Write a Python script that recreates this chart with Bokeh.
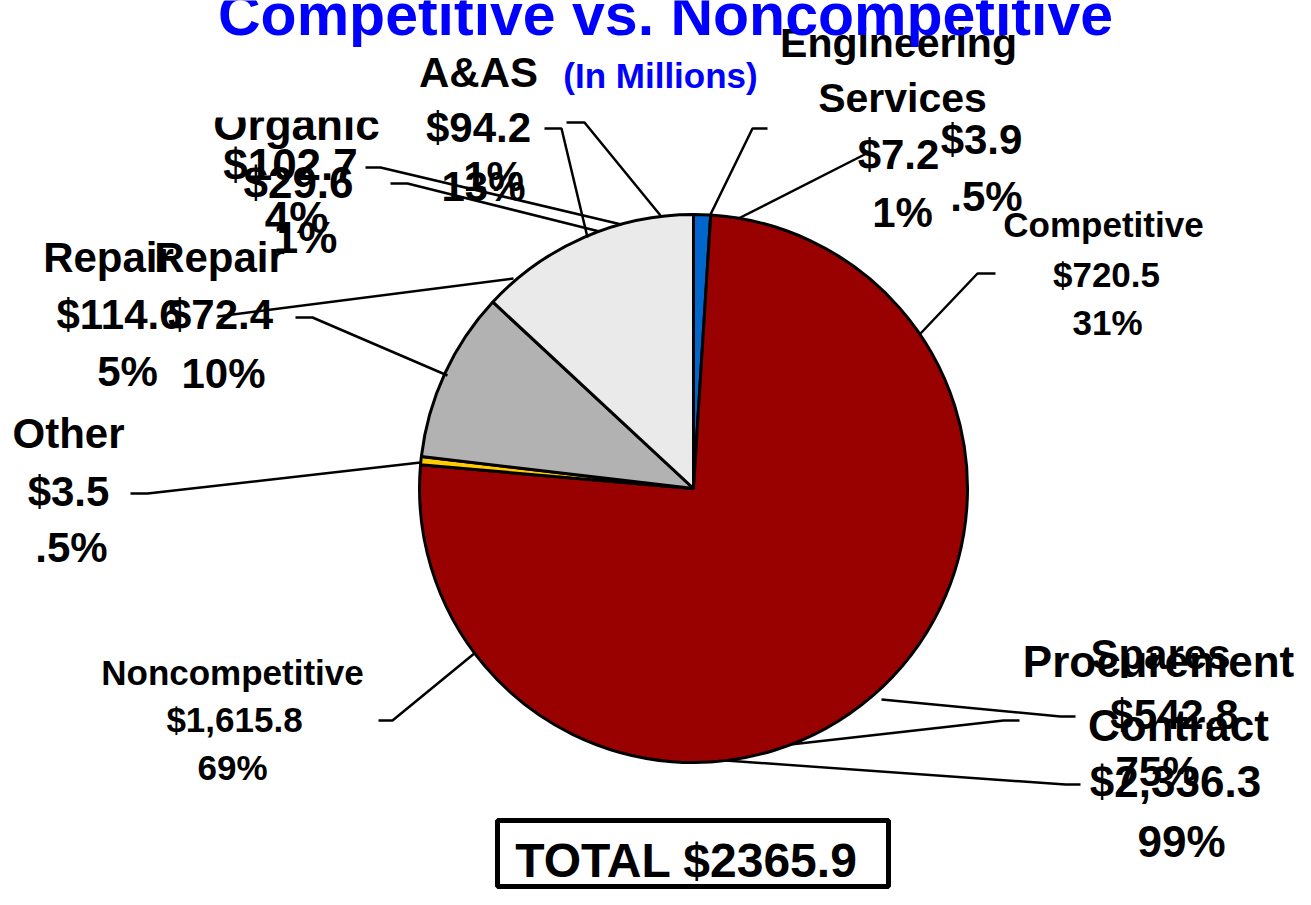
import numpy as np
from bokeh.plotting import figure
from bokeh.models import ColumnDataSource, Range1d
from bokeh.core.properties import value
from bokeh.embed import file_html
from bokeh.resources import INLINE

# ---------------- data ----------------
slice_labels = ["Engineering Services", "Spares", "Other", "Repair", "A&AS"]
slice_values = [7.2, 542.8, 3.5, 72.4, 94.2]          # $ millions (competitive breakdown)
slice_colors = ["#0066CC", "#990000", "#FFCC00", "#B2B2B2", "#EAEAEA"]

title_text = "Competitive vs. Noncompetitive"
subtitle_text = "(In Millions)"
total_text = "TOTAL $2365.9"

label_texts = [
    "Engineering", "Services", "$7.2", "1%", "$3.9", ".5%",
    "Competitive", "$720.5", "31%",
    "A&AS", "$94.2", "1%", "13%",
    "Organic", "$102.7", "$29.6", "4%", "1%",
    "Repair", "Repair", "$114.6", "$72.4", "5%", "10%",
    "Other", "$3.5", ".5%",
    "Noncompetitive", "$1,615.8", "69%",
    "Procurement", "Spares", "$542.8", "Contract", "75%", "$2,336.3", "99%",
]

# ---------------- layout (reference pixel coords) ----------------
H = 905
PW, PH = 1295, 889
BASE_SHIFT = 0.37   # em; compensates where the renderer puts the alphabetic baseline

def Y(y):
    return H - y

def TY(baseline, size):
    return Y(baseline - BASE_SHIFT * size)

label_layout = [  # (center x, baseline y, font px)
    (898, 58, 41), (902, 113, 41), (898, 170, 42), (902, 228, 42), (981, 155, 42), (986, 212, 42),
    (1103, 237, 35), (1106, 287, 35), (1107, 335, 35),
    (478, 88, 42), (478, 143, 42), (493, 192, 42), (483, 202, 42),
    (296, 140, 44), (290, 180, 44), (298, 198, 44), (296, 233, 44), (305, 253, 44),
    (108, 273, 42), (219, 273, 42), (119, 330, 42), (220, 330, 42), (127, 387, 42), (223, 389, 42),
    (68, 449, 42), (68, 507, 42), (71, 563, 42),
    (232, 685, 35), (234, 732, 35), (232, 780, 35),
    (1158, 677, 44), (1160, 670, 42), (1174, 730, 42), (1178, 741, 44), (1157, 787, 42), (1175, 797, 44), (1181, 857, 44),
]

leaders = [
    [(566, 122), (584, 122), (660, 215)],
    [(544, 128), (561, 128), (587, 237)],
    [(767, 128), (752, 128), (709, 216)],
    [(866, 153), (738, 218)],
    [(995, 273), (977, 273), (920, 333)],
    [(365, 167), (380, 167), (621, 224)],
    [(390, 183), (407, 183), (599, 231)],
    [(217, 316), (513, 278)],
    [(295, 317), (312, 317), (447, 375)],
    [(130, 493), (147, 493), (420, 462)],
    [(378, 720), (392, 720), (475, 652)],
    [(881, 699), (1060, 716), (1075, 716)],
    [(790, 744), (1003, 720), (1019, 720)],
    [(725, 760), (1065, 784), (1080, 784)],
]

CX, CY, R = 693, 488, 274
FONT = value("Liberation Sans")

p = figure(width=PW, height=PH, x_range=Range1d(0, PW), y_range=Range1d(H - PH, H),
           output_backend="svg", toolbar_location=None, x_axis_type=None, y_axis_type=None,
           min_border=0, outline_line_color=None, background_fill_color="white")
p.grid.visible = False

# pie (clockwise from 12 o'clock)
vals = np.array(slice_values, dtype=float)
ends = np.cumsum(vals) / vals.sum() * 2 * np.pi
starts = np.concatenate([[0.0], ends[:-1]])
pie_src = ColumnDataSource(dict(name=slice_labels, start=np.pi / 2 - starts, end=np.pi / 2 - ends,
                                color=slice_colors))
p.wedge(x=CX, y=Y(CY), radius=R, start_angle="start", end_angle="end", direction="clock",
        fill_color="color", line_color="black", line_width=3, source=pie_src)

# labels
lab_src = ColumnDataSource(dict(
    x=[l[0] for l in label_layout],
    y=[TY(l[1], l[2]) for l in label_layout],
    size=[f"{l[2]}px" for l in label_layout],
    text=label_texts,
))
p.text(x="x", y="y", text="text", text_font_size="size", text_font=FONT, text_font_style="bold",
       text_align="center", text_baseline="alphabetic", text_color="black", source=lab_src)

# top of "Organic" is hidden in the reference
p.quad(left=[200], right=[392], top=[Y(95)], bottom=[Y(117)], fill_color="white", line_color=None)

# title + subtitle
p.text(x=[665], y=[TY(36, 59)], text=[title_text], text_font_size="59px", text_font=FONT,
       text_font_style="bold", text_align="center", text_baseline="alphabetic", text_color="#0000FF")
p.text(x=[660], y=[TY(88, 35)], text=[subtitle_text], text_font_size="35px", text_font=FONT,
       text_font_style="bold", text_align="center", text_baseline="alphabetic", text_color="#0000FF")

# leader lines
p.multi_line(xs=[[pt[0] for pt in ln] for ln in leaders], ys=[[Y(pt[1]) for pt in ln] for ln in leaders],
             line_color="black", line_width=2.5)

# total box
p.quad(left=[497], right=[888], top=[Y(820)], bottom=[Y(886)], fill_color="white",
       line_color="black", line_width=5)
p.text(x=[686], y=[TY(878, 48)], text=[total_text], text_font_size="48px", text_font=FONT,
       text_font_style="bold", text_align="center", text_baseline="alphabetic", text_color="black")

open("out.html", "w").write(file_html(p, INLINE))
